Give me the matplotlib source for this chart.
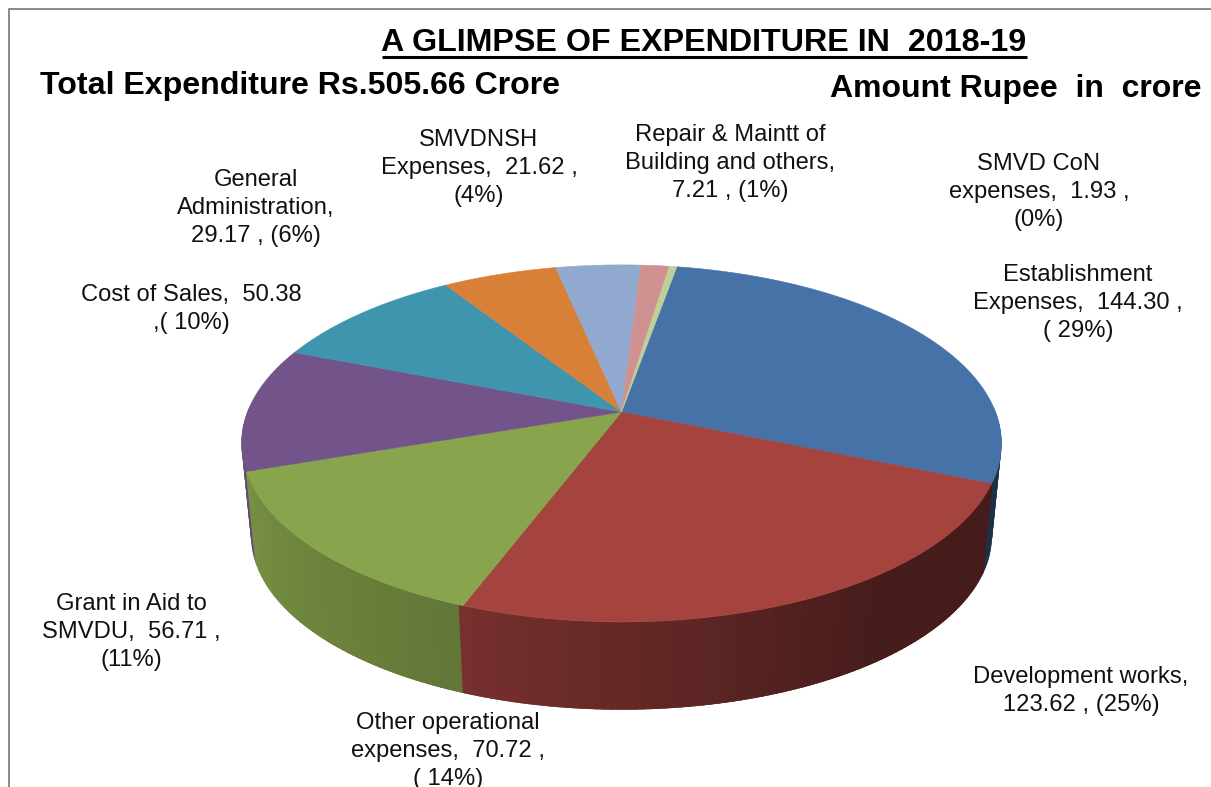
import numpy as np
from matplotlib import pyplot as plt

plt.rcParams['font.family'] = ['Liberation Sans', 'DejaVu Sans']

# clockwise from the top of the pie
names = ['Establishment\nExpenses,  144.30 ,\n( 29%)',
         'Development works,\n123.62 , (25%)',
         'Other operational\nexpenses,  70.72 ,\n( 14%)',
         'Grant in Aid to\nSMVDU,  56.71 ,\n(11%)',
         'Cost of Sales,  50.38\n,( 10%)',
         'General\nAdministration,\n29.17 , (6%)',
         'SMVDNSH\nExpenses,  21.62 ,\n(4%)',
         'Repair & Maintt of\nBuilding and others,\n7.21 , (1%)',
         'SMVD CoN\nexpenses,  1.93 ,\n(0%)']
values = [144.30, 123.62, 70.72, 56.71, 50.38, 29.17, 21.62, 7.21, 1.93]
colors = ['#4672A8', '#A5433F', '#88A44C', '#73548A', '#3F95AE',
          '#D87F38', '#92A9CF', '#D09290', '#BCD097']
label_x = [1078, 1081, 448, 131, 191, 256, 479, 730, 1039]
label_y = [303, 691, 751, 632, 309, 208, 168, 163, 192]

# pie geometry in pixels, perspective of the top face
cx, cy = 621.5, 412
a, b, k = 173, 374, 0.176
depth, shrink = 93, 0.975
start = 80

# darkening of the side wall against angle
shade_t = [-180, -161, -110, -70, -55, -22, 0]
shade_v = [0.80, 0.88, 0.72, 0.50, 0.43, 0.42, 0.42]


def project(t, s=1.0, d=0):
    t = np.radians(t)
    x, y = np.cos(t), np.sin(t)
    w = 1 + k * y
    return cx + s * b * x / w, cy - s * a * y / w + d


fig = plt.figure(figsize=(12.11, 7.87), dpi=100)
ax = fig.add_axes([0, 0, 1, 1])
ax.set_xlim(0, 1211)
ax.set_ylim(787, 0)
ax.axis('off')

sweep = np.array(values) / sum(values) * 360
ends = start - np.cumsum(sweep)
starts = ends + sweep

# side wall, back to front, strips overlap so no seams show
strips = []
for i in range(len(values)):
    t = np.append(np.arange(ends[i], starts[i], 1.0), starts[i])
    for t0, t1 in zip(t[:-1], t[1:]):
        tn = ((t0 + t1) / 2 + 180) % 360 - 180
        if np.sin(np.radians(tn)) >= 0.02:
            continue
        strips.append((np.sin(np.radians(tn)), t0, t1, tn, colors[i]))
strips.sort(key=lambda q: -q[0])
for _, t0, t1, tn, col in strips:
    f = np.interp(tn, shade_t, shade_v)
    rgb = np.array(plt.matplotlib.colors.to_rgb(col)) * f
    tt = np.array([t0 - 0.6, t1 + 0.6])
    x0, y0 = project(tt)
    x1, y1 = project(tt[::-1], s=shrink, d=depth)
    ax.fill(np.r_[x0, x1], np.r_[y0, y1], color=rgb, lw=0, zorder=2)

# top face
for i in range(len(values)):
    t = np.linspace(starts[i], ends[i], 120)
    x, y = project(t)
    ax.fill(np.r_[cx, x], np.r_[cy, y], color=colors[i], lw=0.4, zorder=3)

for i in range(len(values)):
    ax.text(label_x[i], label_y[i], names[i], fontsize=17.15, ha='center', va='center',
            linespacing=1.35, color='#111111', zorder=5)

ax.text(704, 43, 'A GLIMPSE OF EXPENDITURE IN  2018-19', fontsize=23.2, fontweight='bold',
        ha='center', va='center', color='black')
ax.plot([382, 1027], [56.5, 56.5], color='black', lw=2.2, solid_capstyle='butt')
ax.text(40, 86, 'Total Expenditure Rs.505.66 Crore', fontsize=23.1, fontweight='bold',
        ha='left', va='center', color='black')
ax.text(1201, 89, 'Amount Rupee  in  crore', fontsize=23, fontweight='bold',
        ha='right', va='center', color='black')

# frame of the pasted chart
ax.plot([8.5, 8.5, 1211], [787, 8.5, 8.5], color='#808080', lw=1.3)

fig.savefig('out.png', dpi=100)
